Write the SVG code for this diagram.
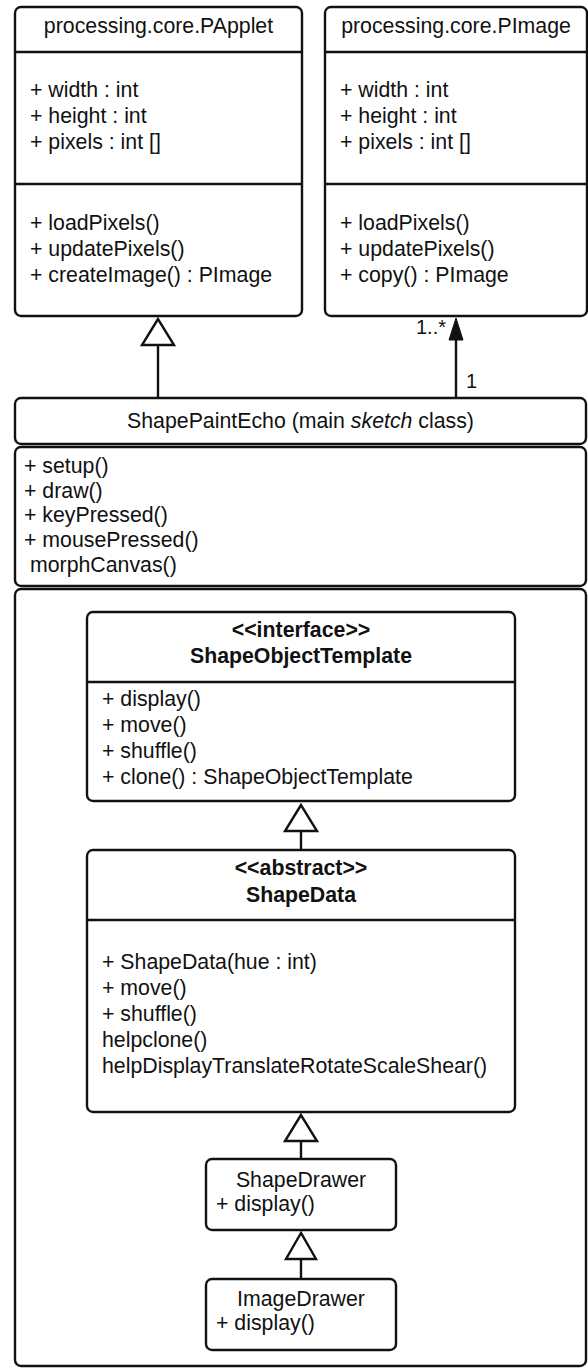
<svg xmlns="http://www.w3.org/2000/svg" width="588" height="1372" viewBox="0 0 588 1372">
<style>
.box{fill:#fff;stroke:#111;stroke-width:2.4}
.div{stroke:#111;stroke-width:2.4}
.t{font-family:"Liberation Sans",Arial,sans-serif;font-size:21.3px;fill:#111}
.c{text-anchor:middle}
.b{font-weight:bold}
.lbl{font-family:"Liberation Sans",Arial,sans-serif;font-size:20px;fill:#111}
.ln{stroke:#111;stroke-width:2.4;fill:none}
.hol{fill:#fff;stroke:#111;stroke-width:2.4}
.fil{fill:#111;stroke:#111;stroke-width:1}
</style>
<rect width="588" height="1372" fill="#fff"/>
<g id="papplet">
<rect class="box" x="15" y="7" width="287" height="309" rx="6"/>
<line class="div" x1="15" y1="52" x2="302" y2="52"/>
<line class="div" x1="15" y1="184" x2="302" y2="184"/>
<text class="t c" x="158.5" y="33">processing.core.PApplet</text>
<text class="t" x="30" y="97">+ width : int</text>
<text class="t" x="30" y="123">+ height : int</text>
<text class="t" x="30" y="149">+ pixels : int []</text>
<text class="t" x="30" y="230">+ loadPixels()</text>
<text class="t" x="30" y="256">+ updatePixels()</text>
<text class="t" x="30" y="282">+ createImage() : PImage</text>
</g>
<g id="pimage">
<rect class="box" x="325" y="7" width="262" height="309" rx="6"/>
<line class="div" x1="325" y1="52" x2="587" y2="52"/>
<line class="div" x1="325" y1="184" x2="587" y2="184"/>
<text class="t c" x="456" y="33">processing.core.PImage</text>
<text class="t" x="340" y="97">+ width : int</text>
<text class="t" x="340" y="123">+ height : int</text>
<text class="t" x="340" y="149">+ pixels : int []</text>
<text class="t" x="340" y="230">+ loadPixels()</text>
<text class="t" x="340" y="256">+ updatePixels()</text>
<text class="t" x="340" y="282">+ copy() : PImage</text>
</g>
<g id="shapepaintecho">
<rect class="box" x="15" y="398" width="571" height="46" rx="6"/>
<text class="t c" x="300.5" y="428">ShapePaintEcho (main <tspan font-style="italic">sketch</tspan> class)</text>
<rect class="box" x="15" y="447" width="571" height="139" rx="6"/>
<text class="t" x="24" y="473">+ setup()</text>
<text class="t" x="24" y="498">+ draw()</text>
<text class="t" x="24" y="522">+ keyPressed()</text>
<text class="t" x="24" y="547">+ mousePressed()</text>
<text class="t" x="30" y="572">morphCanvas()</text>
<rect class="box" x="15" y="589" width="571" height="777" rx="6"/>
</g>
<g id="shapeobjecttemplate">
<rect class="box" x="87" y="612" width="428" height="189" rx="6"/>
<line class="div" x1="87" y1="682" x2="515" y2="682"/>
<text class="t c b" x="301" y="637">&lt;&lt;interface&gt;&gt;</text>
<text class="t c b" x="301" y="663">ShapeObjectTemplate</text>
<text class="t" x="102" y="706">+ display()</text>
<text class="t" x="102" y="732">+ move()</text>
<text class="t" x="102" y="758">+ shuffle()</text>
<text class="t" x="102" y="784">+ clone() : ShapeObjectTemplate</text>
</g>
<g id="shapedata">
<rect class="box" x="87" y="850" width="428" height="262" rx="6"/>
<line class="div" x1="87" y1="920" x2="515" y2="920"/>
<text class="t c b" x="301" y="875">&lt;&lt;abstract&gt;&gt;</text>
<text class="t c b" x="301" y="902">ShapeData</text>
<text class="t" x="102" y="969">+ ShapeData(hue : int)</text>
<text class="t" x="102" y="995">+ move()</text>
<text class="t" x="102" y="1021">+ shuffle()</text>
<text class="t" x="102" y="1047">helpclone()</text>
<text class="t" x="102" y="1073">helpDisplayTranslateRotateScaleShear()</text>
</g>
<g id="shapedrawer">
<rect class="box" x="206" y="1159" width="190" height="71" rx="6"/>
<text class="t c" x="301" y="1187">ShapeDrawer</text>
<text class="t" x="216" y="1211">+ display()</text>
</g>
<g id="imagedrawer">
<rect class="box" x="206" y="1279" width="190" height="71" rx="6"/>
<text class="t c" x="301" y="1306">ImageDrawer</text>
<text class="t" x="216" y="1330">+ display()</text>
</g>
<g id="connectors">
<line class="ln" x1="158" y1="345" x2="158" y2="398"/>
<polygon class="hol" points="158,319 142,345 174,345"/>
<line class="ln" x1="456" y1="338" x2="456" y2="398"/>
<polygon class="fil" points="456,318 449,340 463,340"/>
<text class="lbl" x="416" y="334">1..*</text>
<text class="lbl" x="466" y="388">1</text>
<line class="ln" x1="301" y1="831" x2="301" y2="850"/>
<polygon class="hol" points="301,805 285,831 317,831"/>
<line class="ln" x1="301" y1="1141" x2="301" y2="1159"/>
<polygon class="hol" points="301,1115 285,1141 317,1141"/>
<line class="ln" x1="301" y1="1259" x2="301" y2="1279"/>
<polygon class="hol" points="301,1233 286,1259 316,1259"/>
</g>
</svg>
